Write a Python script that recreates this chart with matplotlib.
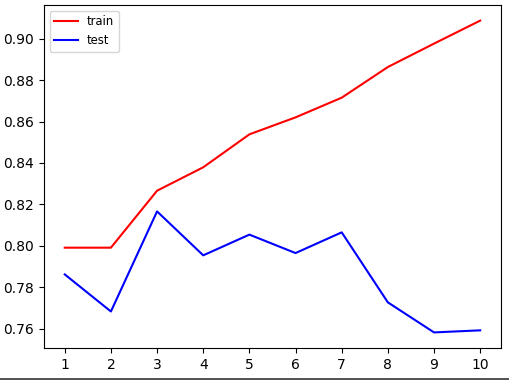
import matplotlib
matplotlib.use('Agg')
import matplotlib.pyplot as plt
from matplotlib.lines import Line2D

# depth values and accuracy scores
depth = [1, 2, 3, 4, 5, 6, 7, 8, 9, 10]
train_score = [0.7991, 0.7991, 0.8266, 0.8379, 0.8538, 0.8620, 0.8715, 0.8863, 0.8976, 0.9087]
test_score = [0.7862, 0.7683, 0.8166, 0.7954, 0.8054, 0.7965, 0.8065, 0.7727, 0.7582, 0.7592]

fig = plt.figure(figsize=(5.09, 3.80), dpi=100)
ax = fig.add_axes([0.0864, 0.0842, 0.8978, 0.9026])

ax.plot(depth, train_score, color='red', label='train')
ax.plot(depth, test_score, color='blue', label='test')
ax.set_xticks(depth)
ax.legend(loc='upper left', fontsize='small')

# dark rule along the bottom edge of the screenshot
fig.add_artist(Line2D([0, 1], [0.002, 0.002], color='#333333', linewidth=1.2))

fig.savefig('out.png', dpi=100)
